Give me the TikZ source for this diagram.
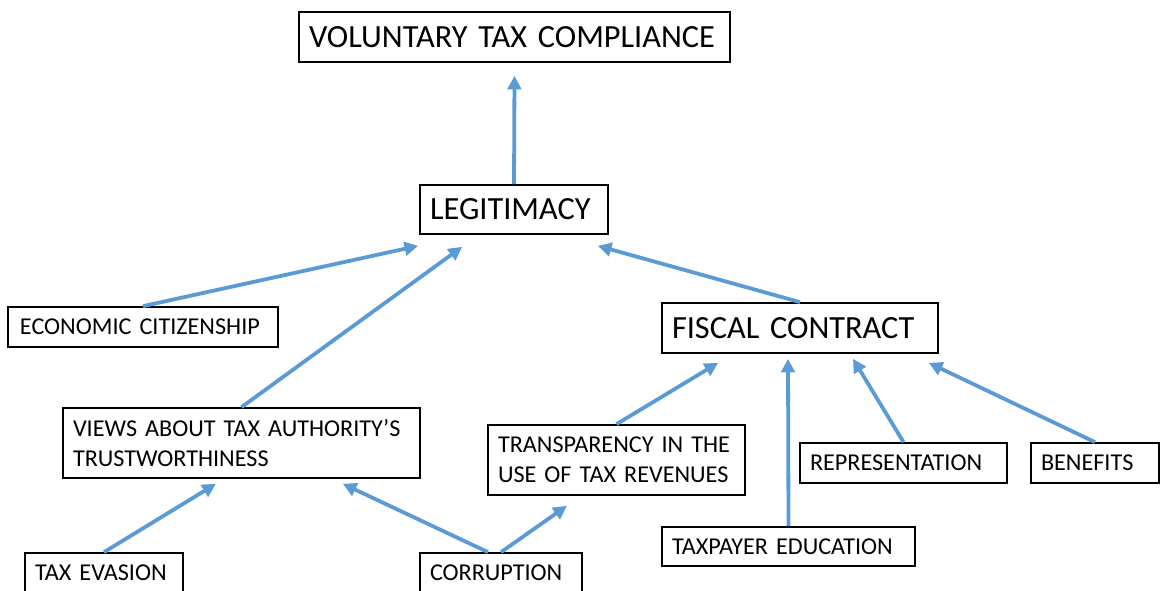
\documentclass[tikz,border=0pt]{standalone}
\usepackage{fontspec}
\setmainfont{Carlito}
\usetikzlibrary{arrows.meta}
\definecolor{linkblue}{RGB}{91,155,213}

\begin{document}
\begin{tikzpicture}[
		box/.style={draw, line width=1.2pt, align=left, inner xsep=0.2cm, inner ysep=0pt,
			execute at begin node={\hyphenpenalty=10000}},
		big/.style={box, font=\fontsize{23}{27}\selectfont},
		small/.style={box, inner xsep=0.25cm, font=\fontsize{17.2}{21}\selectfont},
		link/.style={draw=linkblue, line width=2.7pt, -{Triangle[length=0.34cm,width=0.34cm]}}
	]
		      \useasboundingbox (0,0) rectangle (29,14.775);
		      % top levels
		      \node[big, text width=10.375cm, minimum height=1.25cm] (vtc) at (12.8625, 13.85) {\hspace{0.05cm}VOLUNTARY TAX COMPLIANCE};
		      \node[big, text width=4.3cm, minimum height=1.225cm] (legit) at (12.85, 9.5375) {\hspace{0.05cm}LEGITIMACY};
		      \node[small, text width=6.25cm, minimum height=1cm] (econ) at (3.575, 6.6) {\hspace{0.05cm}ECONOMIC CITIZENSHIP};
		      \node[big, text width=6.5cm, minimum height=1.25cm] (fiscal) at (20.0, 6.575) {\hspace{0.05cm}FISCAL CONTRACT};
		      % middle row
		      \node[small, text width=8.425cm, minimum height=1.75cm] (views) at (6.0375, 3.7) {VIEWS ABOUT TAX AUTHORITY’S\\TRUSTWORTHINESS};
		      \node[small, text width=5.925cm, minimum height=1.75cm] (transp) at (15.4125, 3.275) {TRANSPARENCY IN THE\\USE OF TAX REVENUES};
		      \node[small, text width=4.675cm, minimum height=1cm] (repr) at (22.5875, 3.2) {REPRESENTATION};
		      \node[small, text width=2.7cm, minimum height=1cm] (benef) at (27.375, 3.2) {BENEFITS};
		      % bottom row
		      \node[small, text width=5.825cm, minimum height=0.975cm] (taxpay) at (19.7125, 1.1125) {TAXPAYER EDUCATION};
		      \node[small, text width=3.45cm, minimum height=1cm] (taxev) at (2.6, 0.45) {TAX EVASION};
		      \node[small, text width=3.55cm, minimum height=1cm] (corr) at (12.525, 0.45) {CORRUPTION};

		      \draw[link] (legit.north) -- ([yshift=-0.325cm]vtc.south);
		      \draw[link] (econ.north) -- ([xshift=-0.025cm, yshift=-0.275cm]legit.south west);
		      \draw[link] (views.north) -- ([xshift=1.075cm, yshift=-0.3cm]legit.south west);
		      \draw[link] (fiscal.north) -- ([xshift=-0.275cm, yshift=-0.275cm]legit.south east);
		      \draw[link] (taxev.north) -- ([xshift=-0.64cm, yshift=-0.125cm]views.south);
		      \draw[link] ([xshift=-0.325cm]corr.north) -- ([xshift=-1.95cm, yshift=-0.125cm]views.south east);
		      \draw[link] (corr.north) -- ([xshift=-1.24cm, yshift=-0.25cm]transp.south);
		      \draw[link] (transp.north) -- ([xshift=1.425cm, yshift=-0.225cm]fiscal.south west);
		      \draw[link] (taxpay.north) -- ([xshift=-0.3cm, yshift=-0.125cm]fiscal.south);
		      \draw[link] (repr.north) -- ([xshift=1.325cm, yshift=-0.125cm]fiscal.south);
		      \draw[link] (benef.north) -- ([xshift=-0.25cm, yshift=-0.225cm]fiscal.south east);

	      \end{tikzpicture}
\end{document}
